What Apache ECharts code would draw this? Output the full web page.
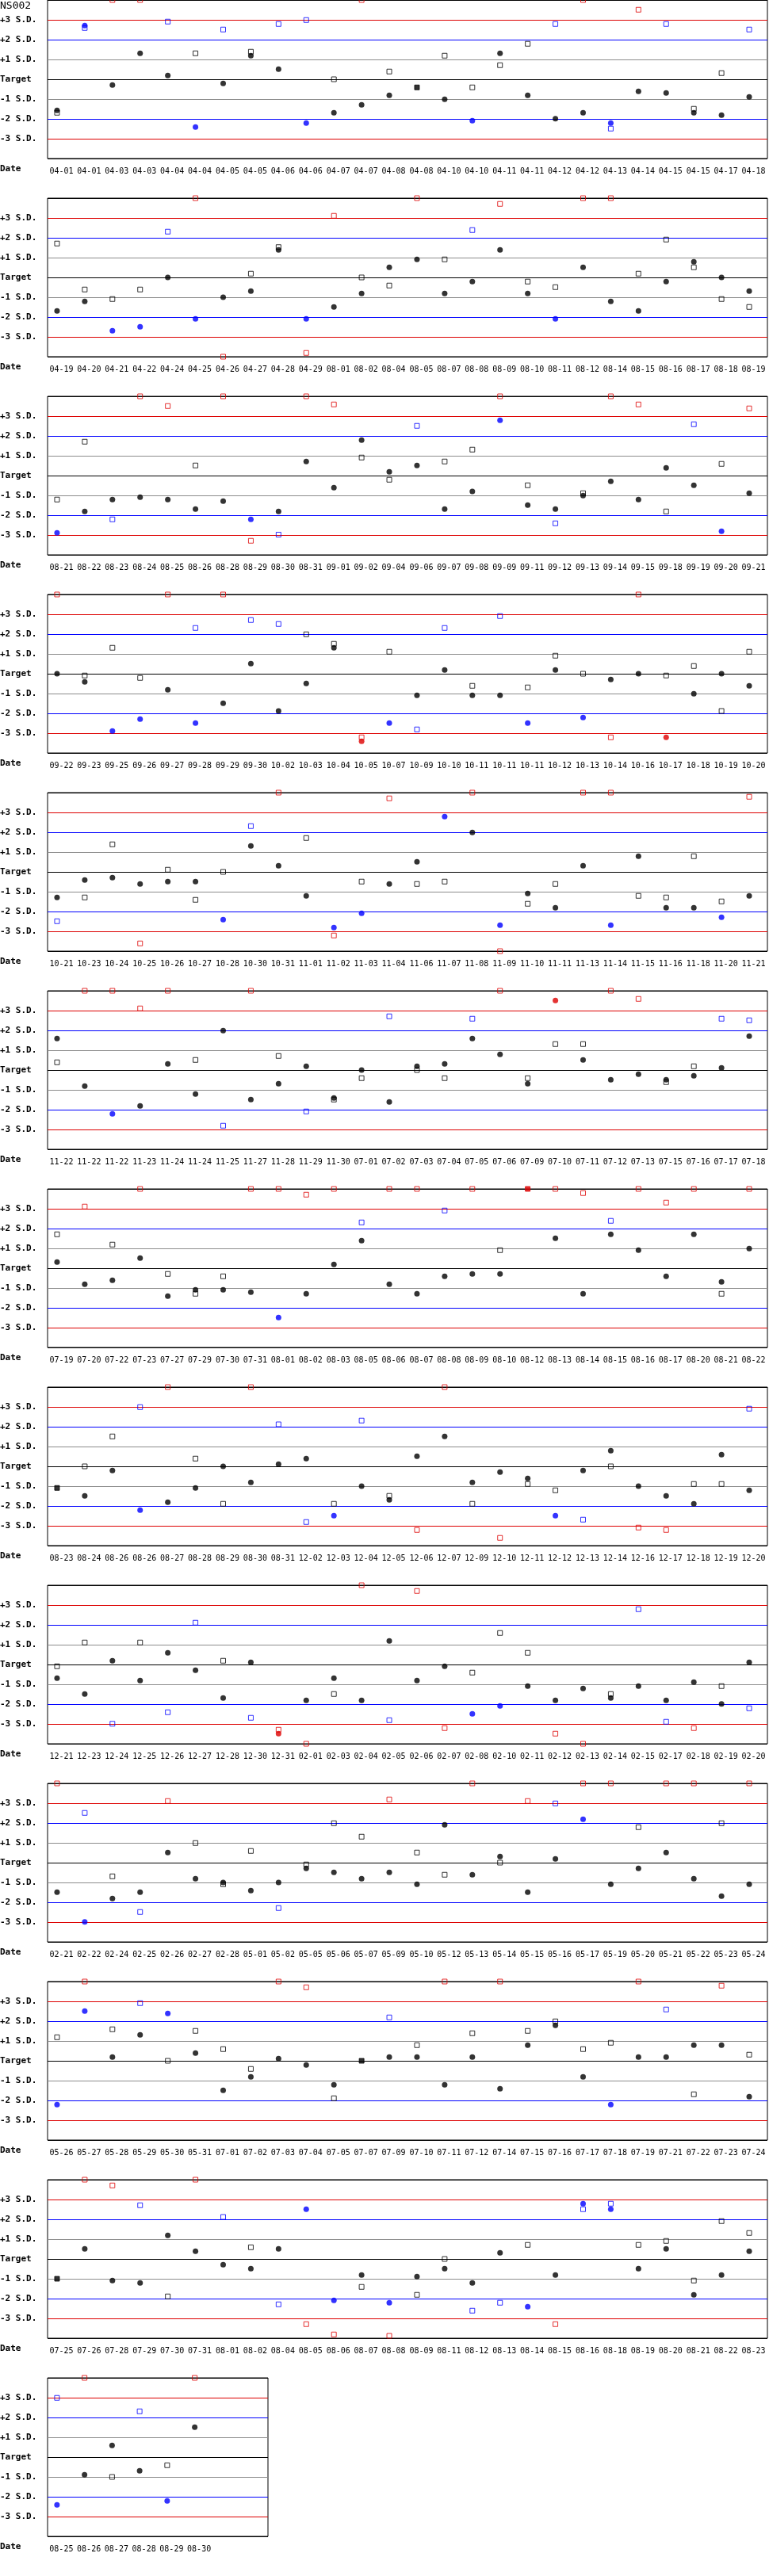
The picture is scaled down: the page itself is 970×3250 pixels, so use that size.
<!DOCTYPE html>
<html><head><meta charset="utf-8">
<script src="https://cdn.jsdelivr.net/npm/echarts@6/dist/echarts.min.js"></script>
<style>html,body{margin:0;padding:0;background:#fff}#c{width:970px;height:3250px}</style>
</head><body><div id="c"></div>
<script>
// ---------- DATA ----------
const chartTitle = 'NS002';
const yTickValues = [-3, -2, -1, 0, 1, 2, 3];
const yTickLabels = ['-3 S.D.', '-2 S.D.', '-1 S.D.', 'Target', '+1 S.D.', '+2 S.D.', '+3 S.D.'];

const panelDates = [
 ["04-01","04-01","04-03","04-03","04-04","04-04","04-05","04-05","04-06","04-06","04-07","04-07","04-08","04-08","04-10","04-10","04-11","04-11","04-12","04-12","04-13","04-14","04-15","04-15","04-17","04-18"],
 ["04-19","04-20","04-21","04-22","04-24","04-25","04-26","04-27","04-28","04-29","08-01","08-02","08-04","08-05","08-07","08-08","08-09","08-10","08-11","08-12","08-14","08-15","08-16","08-17","08-18","08-19"],
 ["08-21","08-22","08-23","08-24","08-25","08-26","08-28","08-29","08-30","08-31","09-01","09-02","09-04","09-06","09-07","09-08","09-09","09-11","09-12","09-13","09-14","09-15","09-18","09-19","09-20","09-21"],
 ["09-22","09-23","09-25","09-26","09-27","09-28","09-29","09-30","10-02","10-03","10-04","10-05","10-07","10-09","10-10","10-11","10-11","10-11","10-12","10-13","10-14","10-16","10-17","10-18","10-19","10-20"],
 ["10-21","10-23","10-24","10-25","10-26","10-27","10-28","10-30","10-31","11-01","11-02","11-03","11-04","11-06","11-07","11-08","11-09","11-10","11-11","11-13","11-14","11-15","11-16","11-18","11-20","11-21"],
 ["11-22","11-22","11-22","11-23","11-24","11-24","11-25","11-27","11-28","11-29","11-30","07-01","07-02","07-03","07-04","07-05","07-06","07-09","07-10","07-11","07-12","07-13","07-15","07-16","07-17","07-18"],
 ["07-19","07-20","07-22","07-23","07-27","07-29","07-30","07-31","08-01","08-02","08-03","08-05","08-06","08-07","08-08","08-09","08-10","08-12","08-13","08-14","08-15","08-16","08-17","08-20","08-21","08-22"],
 ["08-23","08-24","08-26","08-26","08-27","08-28","08-29","08-30","08-31","12-02","12-03","12-04","12-05","12-06","12-07","12-09","12-10","12-11","12-12","12-13","12-14","12-16","12-17","12-18","12-19","12-20"],
 ["12-21","12-23","12-24","12-25","12-26","12-27","12-28","12-30","12-31","02-01","02-03","02-04","02-05","02-06","02-07","02-08","02-10","02-11","02-12","02-13","02-14","02-15","02-17","02-18","02-19","02-20"],
 ["02-21","02-22","02-24","02-25","02-26","02-27","02-28","05-01","05-02","05-05","05-06","05-07","05-09","05-10","05-12","05-13","05-14","05-15","05-16","05-17","05-19","05-20","05-21","05-22","05-23","05-24"],
 ["05-26","05-27","05-28","05-29","05-30","05-31","07-01","07-02","07-03","07-04","07-05","07-07","07-09","07-10","07-11","07-12","07-14","07-15","07-16","07-17","07-18","07-19","07-21","07-22","07-23","07-24"],
 ["07-25","07-26","07-28","07-29","07-30","07-31","08-01","08-02","08-04","08-05","08-06","08-07","08-08","08-09","08-11","08-12","08-13","08-14","08-15","08-16","08-18","08-19","08-20","08-21","08-22","08-23"],
 ["08-25","08-26","08-27","08-28","08-29","08-30"]
];

// Control level 1 (filled circles), in S.D. units (null = no circle)
const level1 = [
 [-1.57,2.71,-0.29,1.31,0.19,-2.41,-0.21,1.19,0.51,-2.21,-1.69,-1.29,-0.81,null,-1.01,-2.09,1.31,-0.81,-1.99,-1.69,-2.21,-0.61,-0.69,-1.69,-1.81,-0.89],
 [-1.69,-1.21,-2.69,-2.49,0,-2.09,-1.0,-0.69,1.39,-2.09,-1.49,-0.81,0.51,0.91,-0.81,-0.21,1.39,-0.81,-2.09,0.51,-1.21,-1.69,-0.21,0.79,0,-0.69],
 [-2.89,-1.81,-1.21,-1.09,-1.21,-1.69,-1.29,-2.21,-1.81,0.71,-0.61,1.79,0.19,0.51,-1.69,-0.8,2.79,-1.49,-1.69,-1.01,-0.29,-1.21,0.39,-0.49,-2.81,-0.89],
 [0,-0.41,-2.89,-2.29,-0.81,-2.49,-1.49,0.51,-1.88,-0.49,1.31,-3.41,-2.49,-1.09,0.19,-1.09,-1.09,-2.49,0.19,-2.21,-0.29,0,-3.21,-1.01,0,-0.61],
 [-1.29,-0.41,-0.29,-0.61,-0.49,-0.49,-2.41,1.31,0.31,-1.21,-2.81,-2.09,-0.61,0.51,2.79,1.99,-2.69,-1.09,-1.81,0.31,-2.69,0.79,-1.81,-1.81,-2.29,-1.21],
 [1.59,-0.81,-2.21,-1.81,0.31,-1.21,1.99,-1.49,-0.69,0.19,-1.41,0,-1.61,0.19,0.31,1.59,0.79,-0.69,3.51,0.51,-0.49,-0.21,-0.49,-0.29,0.11,1.71],
 [0.31,-0.81,-0.61,0.51,-1.41,-1.09,-1.09,-1.21,-2.49,-1.29,0.19,1.39,-0.81,-1.29,-0.41,-0.29,-0.29,null,1.51,-1.29,1.71,0.91,-0.41,1.71,-0.69,0.99],
 [null,-1.49,-0.21,-2.21,-1.81,-1.09,0,-0.81,0.11,0.39,-2.49,-1.0,-1.69,0.51,1.51,-0.81,-0.29,-0.61,-2.49,-0.21,0.79,-1.0,-1.49,-1.89,0.59,-1.21],
 [-0.69,-1.49,0.19,-0.81,0.59,-0.29,-1.69,0.11,-3.49,-1.81,-0.69,-1.81,1.19,-0.81,-0.09,-2.49,-2.09,-1.09,-1.81,-1.21,-1.69,-1.09,-1.81,-0.89,-1.99,0.11],
 [-1.49,-2.99,-1.81,-1.49,0.51,-0.81,-1.0,-1.41,-1.0,-0.29,-0.49,-0.81,-0.49,-1.09,1.91,-0.61,0.31,-1.49,0.19,2.19,-1.09,-0.29,0.51,-0.81,-1.69,-1.09],
 [-2.21,2.51,0.19,1.31,2.39,0.39,-1.49,-0.81,0.11,-0.21,-1.21,null,0.19,0.19,-1.21,0.19,-1.41,0.79,1.79,-0.81,-2.21,0.19,0.19,0.79,0.79,-1.81],
 [null,0.51,-1.09,-1.21,1.19,0.39,-0.29,-0.49,0.51,2.51,-2.09,-0.81,-2.21,-0.89,-0.49,-1.21,0.31,-2.41,-0.81,2.79,2.51,-0.49,0.51,-1.81,-0.81,0.39],
 [-2.41,-0.89,0.59,-0.69,-2.21,1.51]
];

// Control level 2 (open squares), in S.D. units; values beyond +/-4 shown on the frame
const level2 = [
 [-1.69,2.59,4,4,2.91,1.31,2.51,1.39,2.79,2.99,0,4,0.39,-0.41,1.19,-0.41,0.71,1.79,2.79,4,-2.49,3.51,2.79,-1.49,0.31,2.51],
 [1.71,-0.61,-1.09,-0.61,2.31,4,-4,0.19,1.53,-3.81,3.11,0,-0.41,4,0.91,2.39,3.71,-0.21,-0.49,4,4,0.19,1.91,0.51,-1.09,-1.49],
 [-1.21,1.71,-2.21,4,3.51,0.51,4,-3.29,-2.98,4,3.59,0.91,-0.21,2.51,0.71,1.31,4,-0.49,-2.41,-0.89,4,3.59,-1.81,2.59,0.59,3.39],
 [4,-0.09,1.31,-0.21,4,2.31,4,2.71,2.51,1.99,1.51,-3.21,1.11,-2.81,2.31,-0.61,2.91,-0.69,0.91,0,-3.21,4,-0.09,0.39,-1.88,1.11],
 [-2.49,-1.29,1.39,-3.61,0.11,-1.41,0,2.31,4,1.71,-3.21,-0.49,3.71,-0.61,-0.49,4,-4,-1.61,-0.61,4,4,-1.21,-1.29,0.79,-1.49,3.79],
 [0.39,4,4,3.11,4,0.51,-2.81,4,0.71,-2.09,-1.49,-0.41,2.71,0,-0.41,2.59,4,-0.41,1.31,1.31,4,3.59,-0.61,0.19,2.59,2.51],
 [1.71,3.11,1.19,4,-0.29,-1.29,-0.41,4,4,3.71,4,2.31,4,4,2.91,4,0.91,4,4,3.79,2.39,4,3.31,4,-1.29,4],
 [-1.09,0,1.51,2.99,4,0.39,-1.89,4,2.12,-2.81,-1.89,2.31,-1.49,-3.21,4,-1.89,-3.61,-0.89,-1.21,-2.69,0,-3.09,-3.21,-0.89,-0.89,2.91],
 [-0.09,1.11,-2.99,1.11,-2.41,2.11,0.19,-2.69,-3.29,-4,-1.49,4,-2.81,3.71,-3.21,-0.41,1.59,0.59,-3.49,-4,-1.49,2.79,-2.89,-3.21,-1.09,-2.21],
 [4,2.51,-0.69,-2.49,3.11,0.99,-1.09,0.59,-2.29,-0.09,1.99,1.31,3.19,0.51,-0.61,4,0,3.11,2.99,4,4,1.79,4,4,1.99,4],
 [1.19,4,1.59,2.91,0,1.51,0.59,-0.41,4,3.71,-1.89,0,2.19,0.79,4,1.39,4,1.51,1.99,0.59,0.91,4,2.59,-1.69,3.79,0.31],
 [-1.0,4,3.71,2.71,-1.89,4,2.12,0.59,-2.29,-3.29,-3.81,-1.41,-3.88,-1.81,0,-2.61,-2.21,0.71,-3.29,2.51,2.79,0.71,0.91,-1.09,1.91,1.31],
 [2.99,4,-1.0,2.31,-0.41,4]
];

// Points drawn as filled squares: [panel, index]
const filledSquares = [[0,13],[6,17],[7,0],[10,11],[11,0]];

// ---------- LAYOUT / STYLE ----------
const PANEL_H = 250, PLOT_H = 200, LEFT = 60, BAND = 35, FULL_SLOTS = 26, LAST_SLOTS = 8;
const RED = '#dd0000', BLUE = '#0000ff', GRAY = '#8c8c8c', BLACK = '#000000';
const MONO = "'DejaVu Sans Mono', 'Liberation Mono', monospace";

function zone(v) {
  const a = Math.abs(v);
  if (a > 3) return RED;
  if (a > 2) return BLUE;
  return BLACK;
}
function isFilled(p, i) {
  return filledSquares.some(f => f[0] === p && f[1] === i);
}

const grids = [], xAxes = [], yAxes = [], series = [], titles = [];
titles.push({ text: chartTitle, left: 0, top: 1, padding: 0,
  textStyle: { fontFamily: MONO, fontSize: 13, fontWeight: 'normal', color: BLACK } });

panelDates.forEach((dates, p) => {
  const slots = p === panelDates.length - 1 ? LAST_SLOTS : FULL_SLOTS;
  const cats = dates.concat(Array(Math.max(0, slots - dates.length)).fill(''));
  grids.push({ left: LEFT, top: p * PANEL_H, width: slots * BAND - 2, height: PLOT_H,
    show: true, borderColor: BLACK, borderWidth: 1, backgroundColor: 'transparent',
    containLabel: false, outerBoundsMode: 'none' });
  xAxes.push({ type: 'category', gridIndex: p, data: cats, boundaryGap: true,
    axisLine: { show: false }, axisTick: { show: false }, splitLine: { show: false },
    axisLabel: { interval: 0, margin: 11, fontFamily: MONO, fontSize: 10, color: BLACK } });
  yAxes.push({ type: 'value', gridIndex: p, min: -4, max: 4, interval: 1,
    axisLine: { show: false }, axisTick: { show: false },
    splitLine: { show: true, lineStyle: { width: 1,
      color: [BLACK, RED, BLUE, GRAY, BLACK, GRAY, BLUE, RED, BLACK] } },
    axisLabel: { margin: LEFT, align: 'left', verticalAlign: 'middle',
      fontFamily: MONO, fontSize: 11, fontWeight: 'bold', color: BLACK,
      formatter: v => { const k = yTickValues.indexOf(v); return k >= 0 ? yTickLabels[k] : ''; } } });
  titles.push({ text: 'Date', left: 0, top: p * PANEL_H + 208, padding: 0,
    textStyle: { fontFamily: MONO, fontSize: 11, fontWeight: 'bold', color: BLACK } });

  series.push({ type: 'scatter', xAxisIndex: p, yAxisIndex: p, symbol: 'circle', symbolSize: 7,
    symbolOffset: [-5.5, 0], clip: false, silent: true, z: 3,
    data: level1[p].map(v => v === null ? '-' : { value: v, itemStyle: { color: zone(v) } }) });
  series.push({ type: 'scatter', xAxisIndex: p, yAxisIndex: p, symbol: 'rect', symbolSize: 6,
    symbolOffset: [-5.5, 0], clip: false, silent: true, z: 4,
    data: level2[p].map((v, i) => v === null ? '-' : { value: v,
      itemStyle: { color: isFilled(p, i) ? zone(v) : 'rgba(0,0,0,0)', borderColor: zone(v), borderWidth: 1 } }) });
});

const chart = echarts.init(document.getElementById('c'), null, { renderer: 'canvas' });
chart.setOption({
  animation: false, backgroundColor: '#ffffff',
  title: titles, grid: grids, xAxis: xAxes, yAxis: yAxes, series: series,
  tooltip: { show: false }
});
</script></body></html>
